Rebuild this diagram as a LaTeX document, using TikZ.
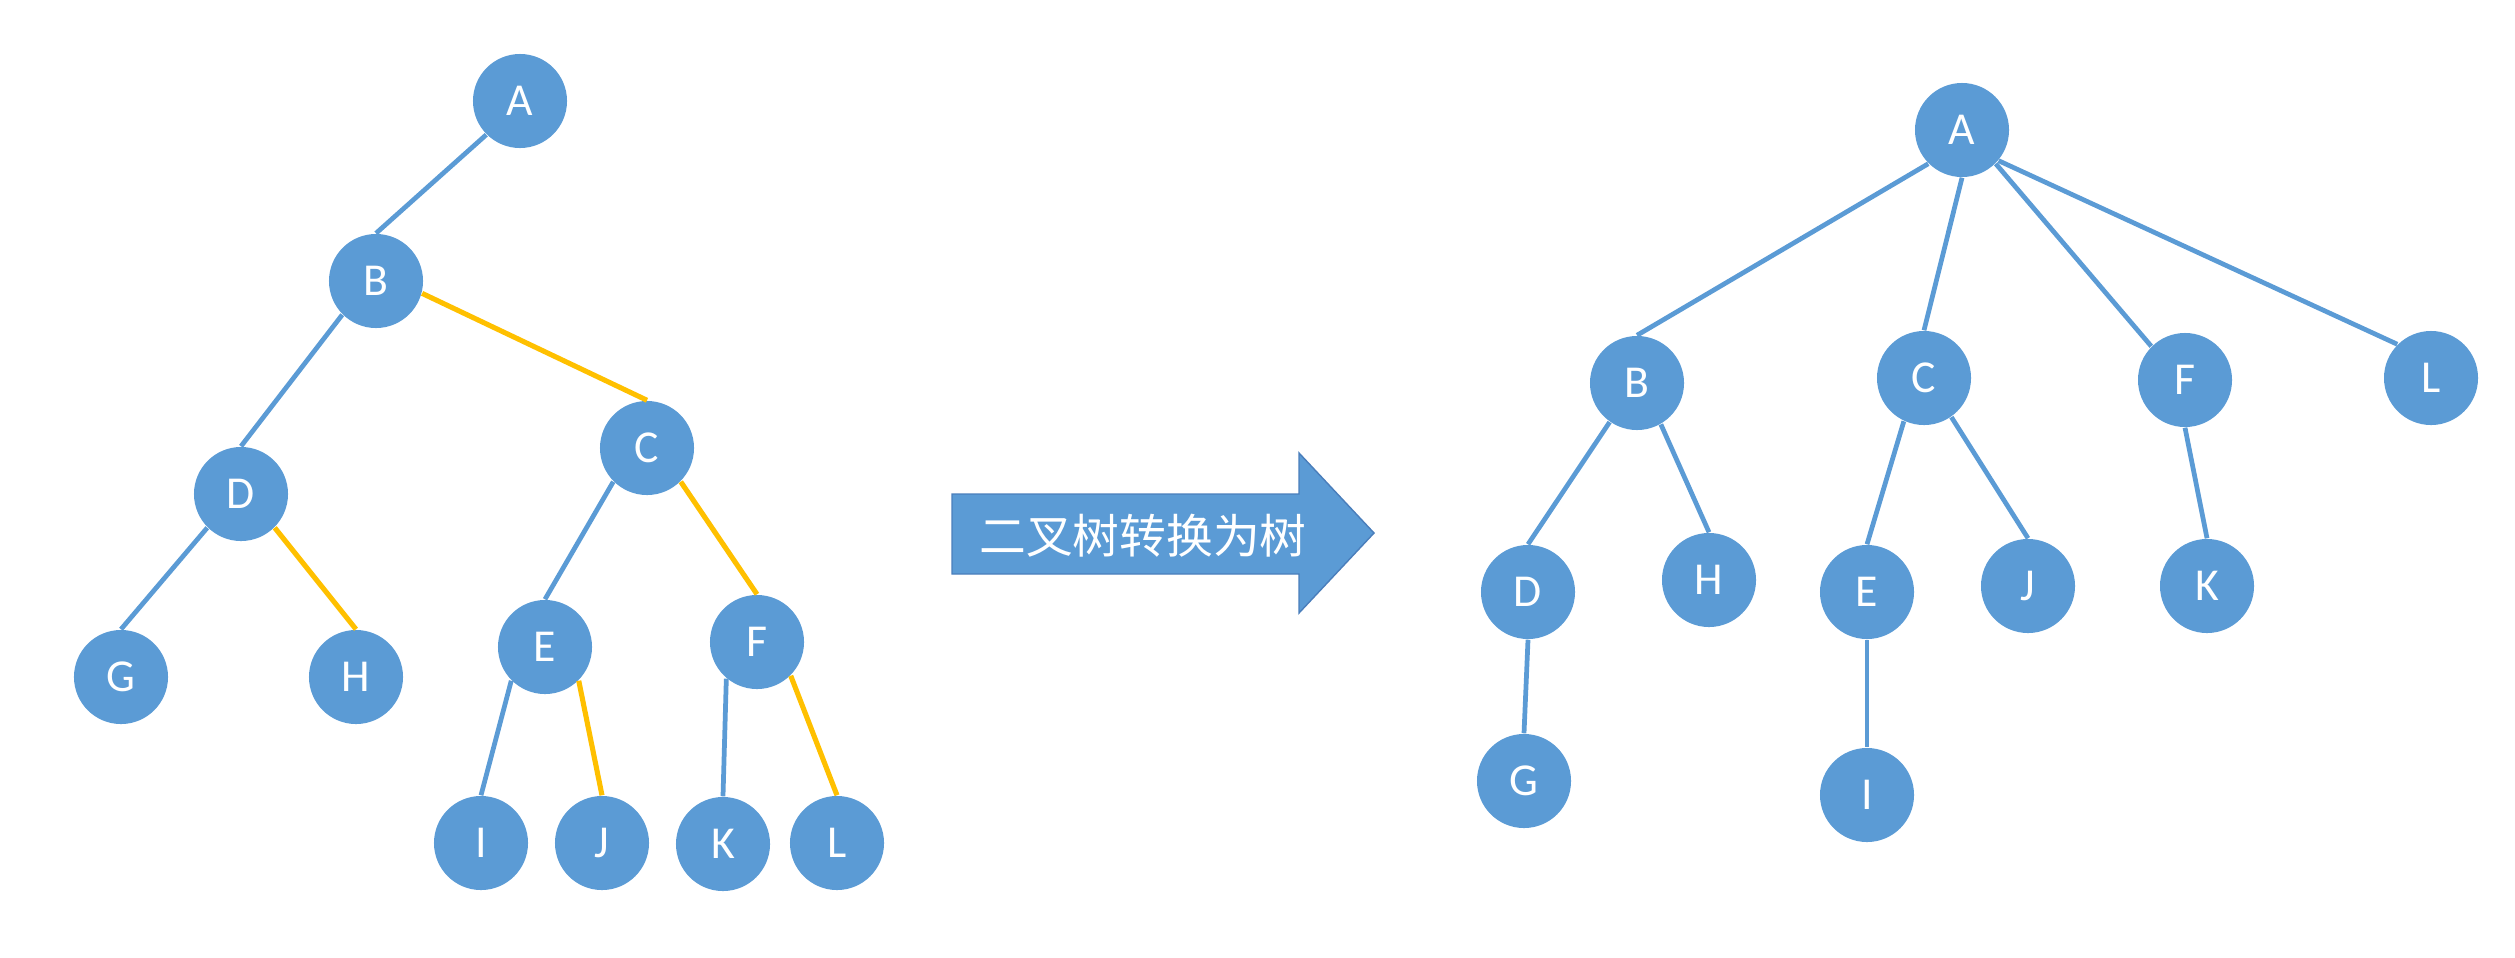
\documentclass[tikz,border=0pt]{standalone}
\usepackage{fontspec}
\setmainfont{Carlito}
\newfontfamily\cjk{Noto Sans CJK SC}
\definecolor{nodeblue}{HTML}{5B9BD5}
\definecolor{edgeblue}{HTML}{5B9BD5}
\definecolor{goldline}{HTML}{FFC000}
\definecolor{arrowborder}{HTML}{4A7EBB}
\begin{document}
\begin{tikzpicture}[x=0.01cm,y=-0.01cm,
  tn/.style={circle,fill=nodeblue,minimum size=0.94cm,inner sep=0pt,text=white,
    font=\fontsize{13}{15}\selectfont},
  be/.style={draw=edgeblue,line width=1.35pt},
  ye/.style={draw=goldline,line width=1.45pt},
  arrowbody/.style={fill=nodeblue,draw=arrowborder,line width=0.4pt},
  arrowlabel/.style={text=white,font=\cjk\fontsize{13.3}{15}\selectfont,inner sep=0pt}]
\useasboundingbox (0,0) rectangle (2515,957);
% ---- left: binary tree ----
\node[tn] (lA) at (520,101) {A};
\node[tn] (lB) at (376,281) {B};
\node[tn] (lC) at (647,448) {C};
\node[tn] (lD) at (241,494) {D};
\node[tn] (lE) at (545,647) {E};
\node[tn] (lF) at (757,642) {F};
\node[tn] (lG) at (121,677) {G};
\node[tn] (lH) at (356,677) {H};
\node[tn] (lI) at (481,843) {I};
\node[tn] (lJ) at (602,843) {J};
\node[tn] (lK) at (723,844) {K};
\node[tn] (lL) at (837,843) {L};
\draw[be] (lA.225) -- (lB.north);
\draw[be] (lB.225) -- (lD.north);
\draw[ye] (lB.345) -- (lC.north);
\draw[be] (lD.225) -- (lG.north);
\draw[ye] (lD.315) -- (lH.north);
\draw[be] (lC.225) -- (lE.north);
\draw[ye] (lC.315) -- (lF.north);
\draw[be] (lE.225) -- (lI.north);
\draw[ye] (lE.315) -- (lJ.north);
\draw[be] (lF.230) -- (lK.north);
\draw[ye] (lF.315) -- (lL.north);
% ---- arrow ----
\fill[arrowbody] (952,494) -- (1299,494) -- (1299,453) -- (1374,533) -- (1299,613) -- (1299,574) -- (952,574) -- cycle;
\node[arrowlabel] (conv) at (1143,536) {二叉树转换为树};
% ---- right: tree ----
\node[tn] (rA) at (1962,130) {A};
\node[tn] (rB) at (1637,383) {B};
\node[tn] (rC) at (1924,378) {C};
\node[tn] (rF) at (2185,380) {F};
\node[tn] (rL) at (2431,378) {L};
\node[tn] (rD) at (1528,592) {D};
\node[tn] (rH) at (1709,580) {H};
\node[tn] (rE) at (1867,592) {E};
\node[tn] (rJ) at (2028,586) {J};
\node[tn] (rK) at (2207,586) {K};
\node[tn] (rG) at (1524,781) {G};
\node[tn] (rI) at (1867,795) {I};
\draw[be] (rA.225) -- (rB.north);
\draw[be] (rA.south) -- (rC.north);
\draw[be] (rA.315) -- (rF.135);
\draw[be] (rA.320) -- (rL.135);
\draw[be] (rB.235) -- (rD.north);
\draw[be] (rB.300) -- (rH.north);
\draw[be] (rC.245) -- (rE.north);
\draw[be] (rC.305) -- (rJ.north);
\draw[be] (rD.south) -- (rG.north);
\draw[be] (rE.south) -- (rI.north);
\draw[be] (rF.south) -- (rK.north);
\end{tikzpicture}
\end{document}
